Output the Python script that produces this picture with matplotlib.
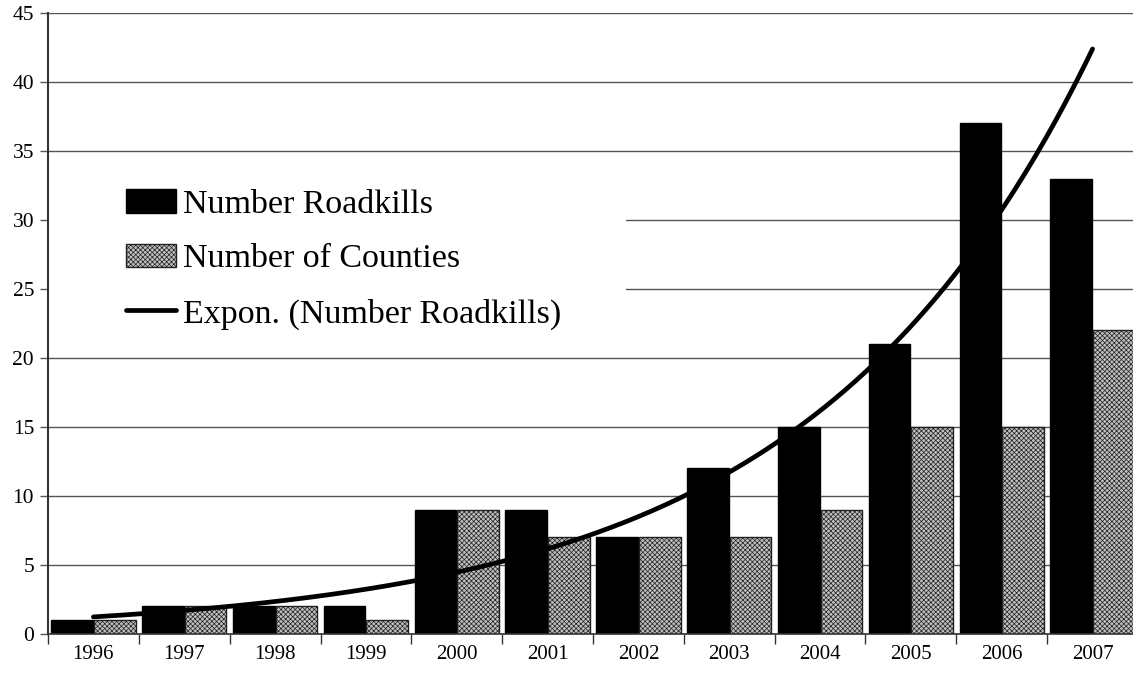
import numpy as np
import matplotlib
matplotlib.use("Agg")
import matplotlib.pyplot as plt
from matplotlib.patches import Rectangle
from matplotlib.lines import Line2D

years = ["1996", "1997", "1998", "1999", "2000", "2001", "2002", "2003", "2004", "2005", "2006", "2007"]
roadkills = [1, 2, 2, 2, 9, 9, 7, 12, 15, 21, 37, 33]
counties = [1, 2, 2, 1, 9, 7, 7, 7, 9, 15, 15, 22]
yticks = [0, 5, 10, 15, 20, 25, 30, 35, 40, 45]

plt.rcParams['font.family'] = ['Liberation Serif', 'DejaVu Serif']
plt.rcParams['hatch.linewidth'] = 0.5

W, H = 1133, 680
fig = plt.figure(figsize=(W / 100, H / 100), dpi=100)
L, R, B, T = 48, 1138, 46, 667
ax = fig.add_axes([L / W, B / H, (R - L) / W, (T - B) / H])

gray_fc = '#c0c0c0'
gray_hatch = 'xxxxxxx'

x = np.arange(len(years))
bw = 0.46
ax.bar(x - 0.235, roadkills, width=bw, color='black', edgecolor='black', linewidth=1.0, zorder=2)
ax.bar(x + 0.235, counties, width=bw, color=gray_fc, edgecolor='#202020', linewidth=1.0,
       hatch=gray_hatch, zorder=2)

# Exponential trendline (least squares fit of ln y, like Excel)
t = np.arange(1, len(years) + 1)
b, lna = np.polyfit(t, np.log(roadkills), 1)
ts = np.linspace(1, len(years), 300)
ax.plot(ts - 1, np.exp(lna + b * ts), color='black', lw=3.4, solid_capstyle='round', zorder=3)

ax.set_xlim(-0.5, len(years) - 0.5)
ax.set_ylim(0, 45)
ax.set_yticks(yticks)
ax.set_yticklabels([str(v) for v in yticks], fontsize=15.5)
ax.tick_params(axis='y', length=6, width=1, color='#555555', pad=4)
ax.set_xticks(np.arange(len(years) + 1) - 0.5)
ax.set_xticklabels([])
ax.set_xticks(x, minor=True)
ax.set_xticklabels(years, minor=True, fontsize=15)
ax.tick_params(axis='x', which='major', length=7, width=1, color='#333333')
ax.tick_params(axis='x', which='minor', length=0, pad=8)

ax.yaxis.grid(True, color='#555555', lw=1.0)
ax.set_axisbelow(True)
for s in ['top', 'right']:
    ax.spines[s].set_visible(False)
ax.spines['left'].set_color('#333333')
ax.spines['left'].set_linewidth(1.5)
ax.spines['bottom'].set_color('#333333')
ax.spines['bottom'].set_linewidth(1.2)
ax.spines['left'].set_zorder(4)
ax.spines['bottom'].set_zorder(4)

# White legend background
rect = Rectangle((49 / W, (H - 354) / H), (626 - 49) / W, (354 - 155) / H,
                 transform=fig.transFigure, facecolor='white', edgecolor='none', zorder=1)
ax.add_patch(rect)

handles = [
    Rectangle((0, 0), 1, 1, facecolor='black', edgecolor='black'),
    Rectangle((0, 0), 1, 1, facecolor=gray_fc, edgecolor='#202020', hatch=gray_hatch),
    Line2D([], [], color='black', lw=3.4, solid_capstyle='round'),
]
labels = ["Number Roadkills", "Number of Counties", "Expon. (Number Roadkills)"]
leg = fig.legend(handles, labels, loc='upper left', bbox_to_anchor=(126 / W, (H - 189) / H),
                 frameon=False, fontsize=24.5, borderpad=0, handlelength=1.47, handleheight=0.7,
                 handletextpad=0.2, labelspacing=0.7, borderaxespad=0)

fig.savefig('out.png', dpi=100)
